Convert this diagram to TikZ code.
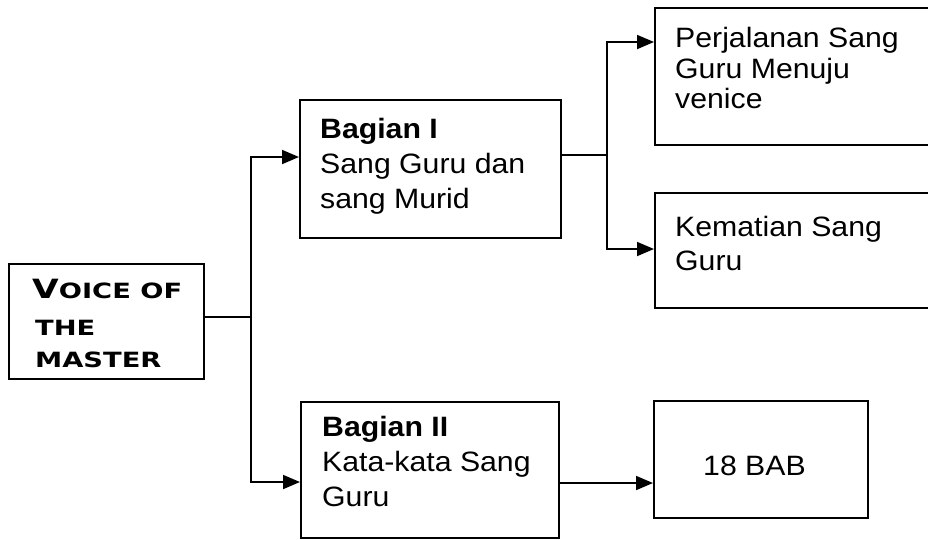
\documentclass[tikz,border=0pt]{standalone}
\usepackage{fontspec}
\setmainfont{Liberation Sans}[FakeStretch=1.08]
\newfontfamily\copfont[FakeStretch=1.3]{DejaVu Sans}
\usetikzlibrary{arrows.meta}
\begin{document}
\begin{tikzpicture}[x=1pt,y=-1pt,
  box/.style={draw, line width=1.8pt, inner sep=0pt, anchor=north west},
  txt/.style={inner sep=0pt, anchor=base west, font=\fontsize{28}{30}\selectfont},
  vtxt/.style={inner sep=0pt, anchor=base west, font=\copfont\bfseries\fontsize{21}{22}\selectfont},
  conn/.style={line width=1.8pt},
  arr/.style={line width=1.8pt, -{Triangle[length=17pt,width=14pt]}}]
\useasboundingbox (0,0) rectangle (928,539);
\clip (0,0) rectangle (928,539);
% boxes
\node[box, minimum width=195pt, minimum height=115pt] (voice) at (8,263) {};
\node[box, minimum width=261pt, minimum height=138pt] (b1) at (299,99) {};
\node[box, minimum width=258pt, minimum height=136pt] (b2) at (300,401) {};
\node[box, minimum width=290pt, minimum height=137pt] (perj) at (654,7) {};
\node[box, minimum width=290pt, minimum height=115pt] (kem) at (654,192) {};
\node[box, minimum width=214pt, minimum height=117pt] (bab) at (653,400) {};
% texts
\node[vtxt] (v1) at (32,298) {{\fontsize{26.5}{26}\selectfont V}OICE OF};
\node[vtxt] (v2) at (35,335) {THE};
\node[vtxt] (v3) at (35,367) {MASTER};
\node[txt] (t1a) at (320,138) {\bfseries Bagian I};
\node[txt] (t1b) at (320,173) {Sang Guru dan};
\node[txt] (t1c) at (320,208) {sang Murid};
\node[txt] (t2a) at (322,436) {\bfseries Bagian II};
\node[txt] (t2b) at (322,471) {Kata-kata Sang};
\node[txt] (t2c) at (322,506) {Guru};
\node[txt] (p1) at (675,47) {Perjalanan Sang};
\node[txt] (p2) at (675,78) {Guru Menuju};
\node[txt] (p3) at (675,108) {venice};
\node[txt] (k1) at (675,236) {Kematian Sang};
\node[txt] (k2) at (675,270) {Guru};
\node[txt] (bb) at (703,475) {18 BAB};
% junction coordinates
\coordinate (j1) at (251,317);
\coordinate (a1) at (0,157);
\coordinate (a2) at (0,482);
\coordinate (j2) at (607,155);
\coordinate (a3) at (0,42);
\coordinate (a4) at (0,249);
\coordinate (a5) at (0,483);
% connectors
\draw[conn] (voice.east |- j1) -- (j1);
\draw[arr] (j1) |- (b1.west |- a1);
\draw[arr] (j1) |- (b2.west |- a2);
\draw[conn] (b1.east |- j2) -- (j2);
\draw[arr] (j2) |- (perj.west |- a3);
\draw[arr] (j2) |- (kem.west |- a4);
\draw[arr] (b2.east |- a5) -- (bab.west |- a5);
\end{tikzpicture}
\end{document}
